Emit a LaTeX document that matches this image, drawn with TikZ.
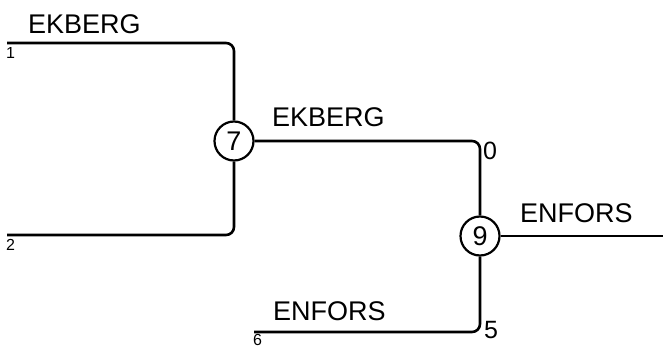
\documentclass[tikz,border=0pt]{standalone}
\usepackage{fontspec}
\setmainfont{Liberation Sans}
\begin{document}
\begin{tikzpicture}[x=1pt,y=-1pt,
  wire/.style={line width=2.6pt,rounded corners=8pt},
  junc/.style={circle,draw,line width=2.2pt,minimum size=39pt,inner sep=0pt,font=\fontsize{27}{30}\selectfont},
  big/.style={anchor=base west,inner sep=0pt,font=\fontsize{27}{32}\selectfont},
  mid/.style={anchor=base west,inner sep=0pt,font=\fontsize{25}{28}\selectfont},
  small/.style={anchor=base west,inner sep=0pt,font=\fontsize{16}{18}\selectfont}]
\useasboundingbox (0,0) rectangle (663,348);
\node[junc] (c7) at (234,141) {7};
\node[junc] (c9) at (480,236) {9};
\coordinate (e1) at (7,43);
\coordinate (e2) at (7,235);
\coordinate (e6) at (254,332);
\coordinate (out) at (663,236);
\draw[wire] (e1) -| (c7.north);
\draw[wire] (e2) -| (c7.south);
\draw[wire] (c7.east) -| (c9.north);
\draw[wire] (e6) -| (c9.south);
\draw[wire] (c9.east) -- (out);
\node[big] (t1) at (28,33) {EKBERG};
\node[big] (t2) at (272,126) {EKBERG};
\node[big] (t3) at (520,222) {ENFORS};
\node[big] (t4) at (273,320) {ENFORS};
\node[small] (n1) at (6,58) {1};
\node[small] (n2) at (6,250) {2};
\node[small] (n6) at (253,345) {6};
\node[mid] (n0) at (483,159) {0};
\node[mid] (n5) at (484,338) {5};
\end{tikzpicture}
\end{document}
